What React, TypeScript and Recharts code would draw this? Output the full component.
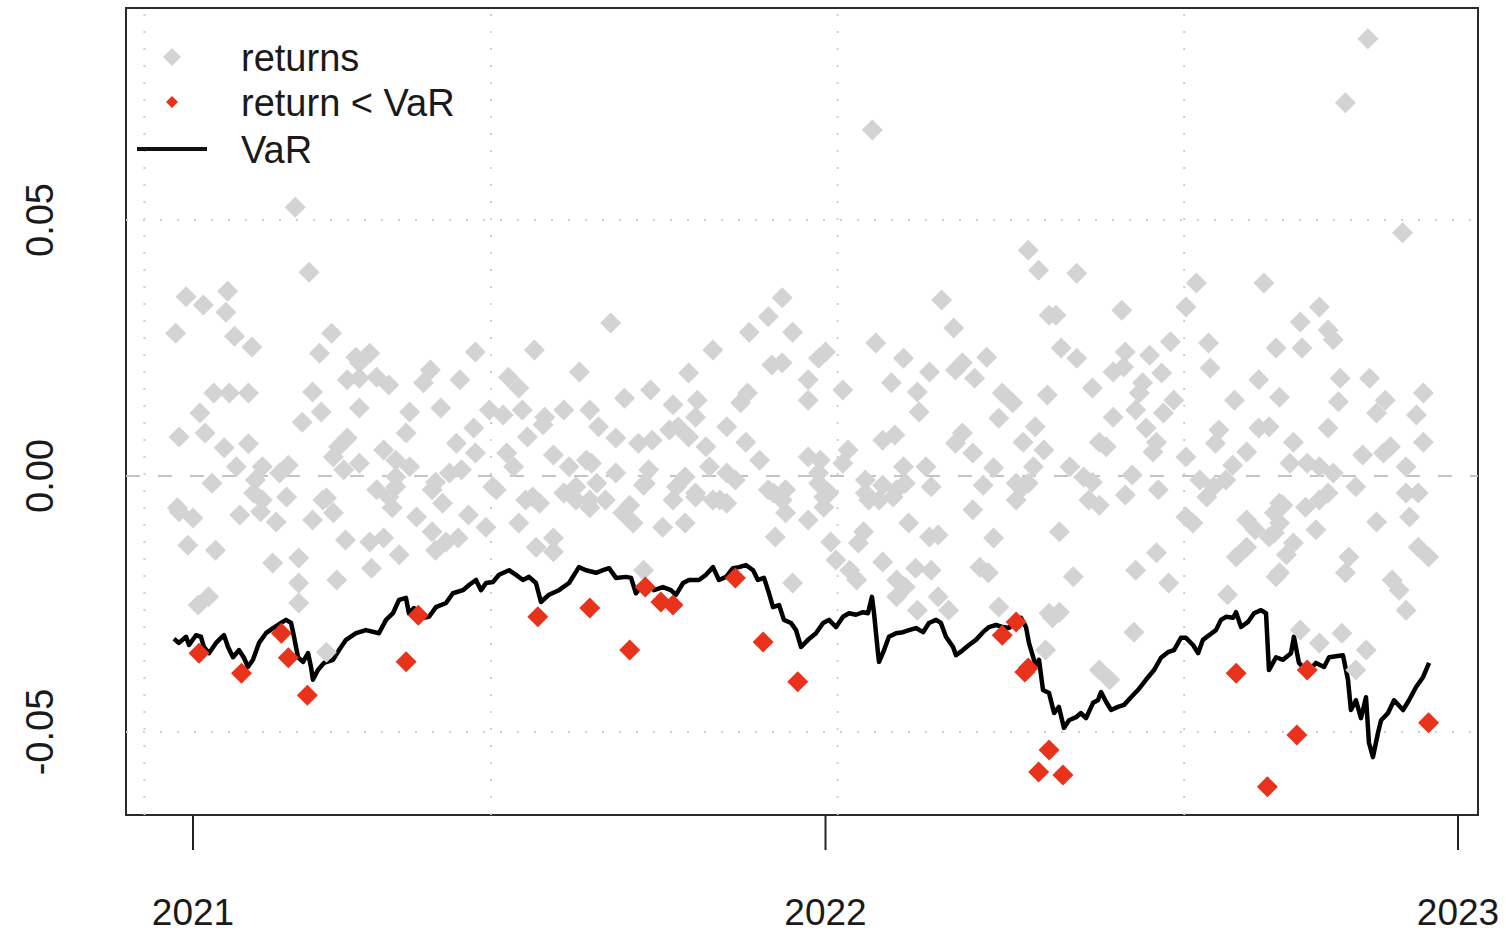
import React from 'react';
import { ComposedChart, Scatter, Line, XAxis, YAxis, ReferenceLine, ReferenceArea } from 'recharts';

// x = days since 2021-01-01, y = daily return
const yearTicks = [0, 365, 730];
const yearLabels = ['2021', '2022', '2023'];
const valueTicks = [-0.05, 0, 0.05];
const gridDays = [-28, 172, 372, 572];
const gridValues = [-0.05, 0.05];

const returnsEarly2021: [number, number][] = [
  [59, 0.0525], [67, 0.0398], [-4, 0.035], [6, 0.0334], [20, 0.0361], [19, 0.032], [-10, 0.0279], [24, 0.0273],
  [34, 0.0252], [80, 0.0279], [73, 0.024], [94, 0.0232], [89, 0.0188], [96, 0.0191], [12, 0.0162], [21, 0.0162],
  [32, 0.0162], [69, 0.0164], [4, 0.0123], [74, 0.0125], [96, 0.0133], [63, 0.0105], [-8, 0.0076], [7, 0.0084],
  [18, 0.0055], [32, 0.0063], [84, 0.0057], [89, 0.0074], [81, 0.0037], [96, 0.0025], [25, 0.0018], [40, 0.0018],
  [55, 0.0021], [50, 0.0006], [87, 0.0012], [11, -0.0014], [36, -0.0008], [35, -0.0033], [54, -0.0041], [77, -0.0043],
  [-9, -0.0062], [-8, -0.007], [0, -0.0082], [27, -0.0076], [40, -0.0047], [39, -0.007], [48, -0.009], [75, -0.0047],
  [69, -0.0086], [81, -0.0072], [88, -0.0125], [-3, -0.0135], [13, -0.0145], [46, -0.017], [61, -0.016], [83, -0.0203],
  [61, -0.0209], [9, -0.0236], [3, -0.0252], [61, -0.0248], [77, -0.0344],
];

const returnsMid2021: [number, number][] = [
  [102, 0.024], [96, 0.0221], [106, 0.0193], [113, 0.0178], [125, 0.0125], [137, 0.0207], [133, 0.0182], [143, 0.0133],
  [154, 0.0188], [163, 0.0242], [182, 0.0193], [188, 0.0172], [197, 0.0246], [223, 0.0203], [171, 0.0129], [179, 0.0119],
  [190, 0.0129], [203, 0.0115], [214, 0.0129], [229, 0.0129], [162, 0.0094], [123, 0.0084], [193, 0.0076], [202, 0.01],
  [152, 0.0064], [110, 0.0051], [117, 0.0031], [125, 0.0018], [163, 0.0045], [181, 0.0045], [185, 0.0018], [208, 0.0041],
  [217, 0.0018], [227, 0.0031], [140, -0.0012], [148, 0.0006], [155, 0.0012], [106, -0.0027], [173, -0.0021], [196, -0.0041],
  [221, -0.0021], [117, -0.0002], [113, -0.0041], [229, -0.0047], [117, -0.0021], [115, -0.0062], [102, -0.0129], [110, -0.0121],
  [119, -0.0154], [103, -0.018], [129, -0.008], [138, -0.0027], [144, -0.0053], [138, -0.0109], [146, -0.0129], [153, -0.0121],
  [140, -0.0145], [159, -0.0076], [169, -0.01], [175, -0.0027], [188, -0.0092], [192, -0.0047], [200, -0.0053], [198, -0.0139],
  [208, -0.0121], [208, -0.0148], [214, -0.0033], [221, -0.0047], [229, -0.0062],
];

const returnsLate2021: [number, number][] = [
  [241, 0.0299], [340, 0.0348], [332, 0.0311], [321, 0.0281], [346, 0.0281], [300, 0.0246], [334, 0.0217], [340, 0.0221],
  [361, 0.023], [286, 0.0201], [355, 0.0188], [249, 0.0152], [264, 0.0168], [277, 0.0139], [291, 0.0148], [290, 0.0115],
  [320, 0.0162], [316, 0.0143], [355, 0.0148], [234, 0.0096], [244, 0.0074], [257, 0.0064], [265, 0.007], [275, 0.009],
  [280, 0.0096], [286, 0.0076], [308, 0.0096], [319, 0.0066], [296, 0.0057], [327, 0.0031], [355, 0.0037], [230, 0.0025],
  [244, 0.0006], [263, 0.0012], [261, -0.0014], [284, -0.0002], [298, 0.0018], [308, 0.0006], [313, -0.0008], [332, -0.0027],
  [342, -0.0027], [361, 0.0006], [277, -0.0047], [290, -0.0041], [304, -0.0047], [238, -0.0047], [252, -0.0057], [233, -0.0014],
  [260, -0.0018], [248, -0.0072], [254, -0.0092], [271, -0.01], [284, -0.0092], [279, -0.0021], [290, -0.0033], [300, -0.0047],
  [308, -0.0053], [335, -0.0033], [340, -0.0047], [342, -0.0072], [355, -0.0086], [336, -0.0119], [346, -0.0209], [260, -0.0184],
  [361, -0.0014],
];

const returnsEarly2022: [number, number][] = [
  [392, 0.0676], [482, 0.0441], [488, 0.0402], [432, 0.0344], [439, 0.0289], [494, 0.0314], [394, 0.026], [365, 0.0242],
  [410, 0.023], [425, 0.0203], [444, 0.0221], [451, 0.0191], [458, 0.0232], [440, 0.0207], [375, 0.0168], [403, 0.0182],
  [418, 0.0164], [419, 0.0125], [467, 0.0162], [473, 0.0143], [465, 0.0113], [493, 0.0158], [398, 0.007], [405, 0.008],
  [444, 0.0084], [440, 0.0064], [450, 0.0045], [486, 0.0096], [479, 0.0066], [491, 0.0051], [378, 0.0051], [375, 0.0025],
  [362, 0.0031], [410, 0.0018], [423, 0.0018], [462, 0.0016], [485, 0.0018], [388, -0.0008], [398, -0.0018], [404, -0.0041],
  [411, -0.0014], [426, -0.0021], [456, -0.0018], [475, -0.0014], [482, -0.0014], [364, -0.0041], [390, -0.0047], [475, -0.0047],
  [367, -0.0033], [364, -0.0061], [388, -0.0033], [396, -0.0047], [406, -0.0027], [450, -0.0066], [479, -0.0021], [387, -0.0109],
  [384, -0.0131], [368, -0.0129], [413, -0.0092], [425, -0.0119], [430, -0.0115], [462, -0.0121], [371, -0.0164], [379, -0.0184],
  [383, -0.0203], [398, -0.0168], [406, -0.0203], [411, -0.0217], [417, -0.018], [426, -0.0184], [406, -0.0236], [430, -0.0236],
  [418, -0.0262], [436, -0.0262], [454, -0.0178], [459, -0.0189], [465, -0.0256], [494, -0.0268], [492, -0.034],
];

const returnsMid2022: [number, number][] = [
  [510, 0.0396], [498, 0.0314], [536, 0.0324], [579, 0.0377], [573, 0.033], [618, 0.0377], [501, 0.025], [510, 0.023],
  [538, 0.0242], [552, 0.0236], [564, 0.0262], [586, 0.026], [625, 0.025], [531, 0.0203], [537, 0.0213], [559, 0.0201],
  [587, 0.0211], [615, 0.0188], [519, 0.0172], [548, 0.0182], [546, 0.0162], [566, 0.0148], [560, 0.0123], [601, 0.0148],
  [627, 0.0154], [531, 0.0115], [544, 0.0129], [550, 0.0094], [592, 0.009], [590, 0.0064], [615, 0.0094], [621, 0.0096],
  [523, 0.0066], [527, 0.0057], [556, 0.0066], [554, 0.0047], [573, 0.0037], [608, 0.0047], [600, 0.0021], [506, 0.0018],
  [514, -0.0002], [519, -0.0012], [542, 0.0002], [557, -0.0027], [581, -0.0008], [589, -0.0021], [596, -0.0008], [585, -0.0041],
  [538, -0.0037], [517, -0.0047], [523, -0.0057], [627, -0.0053], [573, -0.008], [577, -0.0092], [500, -0.0109], [556, -0.015],
  [544, -0.0184], [563, -0.0209], [508, -0.0197], [500, -0.0266], [496, -0.0277], [543, -0.0305], [523, -0.0379], [529, -0.0398],
  [597, -0.0232], [608, -0.0139], [613, -0.0105], [608, -0.0086], [602, -0.0158], [621, -0.0119], [627, -0.0189], [624, -0.0072],
  [627, -0.0092],
];

const returnsLate2022: [number, number][] = [
  [678, 0.0854], [665, 0.0729], [698, 0.0475], [650, 0.033], [639, 0.0301], [655, 0.0285], [658, 0.0266], [640, 0.025],
  [662, 0.0191], [679, 0.0191], [661, 0.0145], [688, 0.0148], [683, 0.0123], [710, 0.0162], [706, 0.0119], [655, 0.0094],
  [635, 0.0066], [710, 0.0066], [675, 0.0041], [687, 0.0045], [691, 0.0057], [633, 0.0025], [643, 0.0025], [650, 0.0018],
  [658, 0.0006], [700, 0.0018], [671, -0.0021], [655, -0.0033], [650, -0.0047], [700, -0.0033], [707, -0.0033], [629, -0.0057],
  [642, -0.0061], [624, -0.0111], [648, -0.0105], [635, -0.0131], [631, -0.0154], [683, -0.009], [702, -0.008], [707, -0.0139],
  [713, -0.0158], [667, -0.0158], [665, -0.0189], [625, -0.0197], [692, -0.0203], [696, -0.0223], [700, -0.0262], [639, -0.0301],
  [650, -0.0326], [663, -0.0307], [677, -0.034], [671, -0.0379],
];

// returns that fell below the VaR estimate
const exceedances: [number, number][] = [
  [3.5, -0.0346], [28, -0.0385], [51, -0.0307], [55, -0.0355], [66, -0.0428], [123, -0.0363], [130, -0.0272], [199, -0.0275],
  [229, -0.0258], [252, -0.034], [261, -0.0217], [270, -0.0246], [277, -0.0252], [313, -0.0199], [329, -0.0324], [349, -0.0402],
  [467, -0.0311], [475, -0.0285], [480, -0.0383], [482, -0.0375], [488, -0.0578], [494, -0.0535], [502, -0.0584], [602, -0.0385],
  [620, -0.0607], [637, -0.0506], [643, -0.0379], [713, -0.0482],
];

const varSeries: [number, number][] = [
  [-11, -0.0318], [-8.1, -0.0326], [-4, -0.0314], [-2.3, -0.033], [1.7, -0.0311], [4.6, -0.0314], [6.3, -0.0334], [9.2, -0.0346],
  [13.3, -0.0326], [16.2, -0.0316], [17.9, -0.0311], [20.2, -0.0334], [23.1, -0.0354], [26.5, -0.034], [29.4, -0.0355], [31.7, -0.0373],
  [34.6, -0.0359], [38.1, -0.0326], [42.1, -0.0307], [46.2, -0.0297], [50.8, -0.0287], [53.7, -0.0281], [56.6, -0.0287], [58.3, -0.0314],
  [60.6, -0.0354], [63.5, -0.0363], [66.4, -0.0346], [68.1, -0.0373], [69.2, -0.0398], [72.1, -0.0379], [75.6, -0.0365], [80.8, -0.0359],
  [84.3, -0.034], [88.3, -0.032], [94.1, -0.0307], [99.8, -0.0301], [107.3, -0.0307], [111.4, -0.0281], [115.4, -0.0268], [118.9, -0.0242],
  [122.9, -0.0238], [124.6, -0.0268], [127.5, -0.0258], [132.7, -0.0277], [136.2, -0.0275], [140.2, -0.0256], [146, -0.0248], [150, -0.0229],
  [155.8, -0.0223], [159.3, -0.0213], [163.3, -0.0203], [166.2, -0.0223], [169.1, -0.0209], [173.1, -0.0207], [176.6, -0.0193], [182.4, -0.0184],
  [186.4, -0.0193], [190.4, -0.0203], [193.9, -0.0197], [197.9, -0.0209], [200.8, -0.0246], [205.4, -0.0232], [211.2, -0.0223], [217, -0.0209],
  [222.7, -0.0178], [226.8, -0.0184], [232.6, -0.0189], [236.6, -0.0184], [240.1, -0.018], [244.1, -0.0199], [249.9, -0.0197], [252.8, -0.0199],
  [255.6, -0.0229], [258.5, -0.0217], [262.6, -0.0209], [266, -0.0223], [271.2, -0.0217], [275.8, -0.0223], [278.7, -0.0232], [282.8, -0.0209],
  [286.2, -0.0203], [292, -0.0203], [296, -0.0193], [300.1, -0.0178], [303.5, -0.0203], [307.6, -0.0197], [311.6, -0.018], [315.1, -0.0178],
  [319.1, -0.0174], [323.2, -0.0184], [326, -0.0203], [329.5, -0.0199], [332.4, -0.0229], [334.7, -0.0256], [338.2, -0.0252], [341, -0.0281],
  [345.1, -0.0287], [348, -0.0301], [350.9, -0.0334], [354.9, -0.032], [359.5, -0.0307], [363.6, -0.0287], [367, -0.0281], [371.1, -0.0295],
  [375.1, -0.0275], [378.6, -0.0268], [382.6, -0.0271], [386.6, -0.0266], [389.5, -0.0268], [391.8, -0.0236], [393, -0.0268], [395.3, -0.0346],
  [395.9, -0.0363], [398.8, -0.034], [401.6, -0.0314], [405.7, -0.0307], [409.7, -0.0305], [413.2, -0.0301], [417.2, -0.0297], [421.3, -0.0305],
  [424.7, -0.0287], [428.8, -0.0281], [431.6, -0.0287], [434.5, -0.0314], [438.6, -0.0334], [440.3, -0.035], [444.3, -0.034], [447.8, -0.033],
  [451.8, -0.032], [455.9, -0.0305], [459.3, -0.0295], [463.4, -0.0291], [467.4, -0.0295], [470.9, -0.0297], [474.9, -0.0281], [477.8, -0.0277],
  [480.7, -0.0295], [482.4, -0.0326], [486.5, -0.0373], [488.2, -0.0359], [490.5, -0.0418], [494, -0.0424], [496.9, -0.0463], [499.7, -0.0451],
  [502.6, -0.0492], [505.5, -0.0477], [509.6, -0.0471], [512.4, -0.0463], [515.3, -0.0473], [519.4, -0.0443], [522.2, -0.0438], [524, -0.0422],
  [526.9, -0.0441], [529.8, -0.0457], [533.8, -0.0451], [537.3, -0.0447], [541.3, -0.0432], [545.3, -0.0418], [549.9, -0.0398], [554.6, -0.0379],
  [558.6, -0.0355], [562.6, -0.0344], [566.1, -0.034], [570.1, -0.0316], [573, -0.0316], [577.1, -0.033], [580, -0.0346], [582.8, -0.032],
  [586.3, -0.0311], [590.3, -0.0301], [593.2, -0.0281], [596.1, -0.0275], [600.2, -0.0277], [601.9, -0.0266], [604.8, -0.0295], [608.8, -0.0285],
  [612.3, -0.0268], [616.3, -0.0262], [619.2, -0.0268], [620.9, -0.0379], [625, -0.0354], [629, -0.0359], [633.6, -0.0346], [635.3, -0.0314],
  [638.2, -0.0365], [643.4, -0.0383], [648, -0.0365], [652.7, -0.0373], [655.6, -0.0354], [663.6, -0.035], [666.5, -0.0398], [668.2, -0.0457],
  [671.1, -0.0438], [674, -0.0473], [676.9, -0.0432], [678.6, -0.0521], [680.9, -0.0549], [683.8, -0.0502], [685.6, -0.0477], [689.6, -0.0463],
  [693.1, -0.0438], [698.3, -0.0457], [701.7, -0.0438], [705.8, -0.0412], [709.8, -0.0393], [713.3, -0.0365],
];

const toPoints = (rows: [number, number][]) => rows.map(([d, v]) => ({ d, v }));
const returnPoints = toPoints([
  ...returnsEarly2021, ...returnsMid2021, ...returnsLate2021,
  ...returnsEarly2022, ...returnsMid2022, ...returnsLate2022,
]);
const exceedPoints = toPoints(exceedances);
const varPoints = toPoints(varSeries);

const GREY = '#d3d3d3';
const RED = '#e8321c';
const FONT = '"Liberation Sans", Arial, Helvetica, sans-serif';

const W = 1509;
const H = 934;
const LEFT = 126;
const TOP = 8;
const RIGHT = 31;
const BOTTOM = 119;

const diamond = (r: number, fill: string) => (props: any) => {
  const { cx, cy } = props;
  if (cx == null || cy == null) return <g />;
  return <polygon points={`${cx},${cy - r} ${cx + r},${cy} ${cx},${cy + r} ${cx - r},${cy}`} fill={fill} />;
};

function YearTick({ x, payload }: any) {
  const i = yearTicks.indexOf(payload.value);
  return (
    <text x={x} y={H - 22} textAnchor="middle" dominantBaseline="central" fontSize={37} fontFamily={FONT} fill="#1a1a1a">
      {yearLabels[i]}
    </text>
  );
}

function ValueTick({ y, payload }: any) {
  return (
    <text
      x={40}
      y={y}
      transform={`rotate(-90, 40, ${y})`}
      textAnchor="middle"
      dominantBaseline="central"
      fontSize={38}
      fontFamily={FONT}
      fill="#1a1a1a"
    >
      {Number(payload.value).toFixed(2)}
    </text>
  );
}

function LegendBox() {
  const text = { fontSize: 38, fontFamily: FONT, fill: '#1a1a1a', dominantBaseline: 'central' as const };
  return (
    <svg width={W} height={H} style={{ position: 'absolute', left: 0, top: 0, pointerEvents: 'none' }}>
      <polygon points="172,48 181,57 172,66 163,57" fill={GREY} />
      <text x={241} y={58} {...text}>returns</text>
      <polygon points="172,96 178,102 172,108 166,102" fill={RED} />
      <text x={241} y={103} {...text}>{'return < VaR'}</text>
      <line x1={137} y1={149} x2={207} y2={149} stroke="#111" strokeWidth={4} />
      <text x={241} y={150} {...text}>VaR</text>
    </svg>
  );
}

export default function App() {
  return (
    <div style={{ position: 'absolute', left: 0, top: 0, width: W, height: H, background: '#fff' }}>
      <ComposedChart width={W} height={H} margin={{ top: TOP, right: RIGHT, bottom: 0, left: 0 }}>
        <XAxis
          type="number"
          dataKey="d"
          domain={[-38.66, 741.53]}
          ticks={yearTicks}
          tick={<YearTick />}
          tickSize={35}
          tickLine={{ stroke: '#222', strokeWidth: 2 }}
          axisLine={false}
          height={BOTTOM}
          allowDataOverflow
        />
        <YAxis
          type="number"
          dataKey="v"
          domain={[-0.06621, 0.09141]}
          ticks={valueTicks}
          tick={<ValueTick />}
          tickLine={false}
          axisLine={false}
          width={LEFT}
          allowDataOverflow
        />
        {gridDays.map((d) => (
          <ReferenceLine key={`gx-${d}`} x={d} stroke="#cfcfcf" strokeWidth={2} strokeDasharray="2 15" />
        ))}
        {gridValues.map((v) => (
          <ReferenceLine key={`gy-${v}`} y={v} stroke="#cfcfcf" strokeWidth={2} strokeDasharray="2 15" />
        ))}
        <ReferenceLine y={0} stroke="#c4c4c4" strokeWidth={2} strokeDasharray="14 18" />
        <Scatter name="returns" data={returnPoints} dataKey="v" shape={diamond(10.5, GREY)} isAnimationActive={false} />
        <Scatter name="return < VaR" data={exceedPoints} dataKey="v" shape={diamond(10.5, RED)} isAnimationActive={false} />
        <Line
          name="VaR"
          data={varPoints}
          dataKey="v"
          type="linear"
          stroke="#000"
          strokeWidth={4.5}
          strokeLinejoin="round"
          dot={false}
          activeDot={false}
          isAnimationActive={false}
        />
        <ReferenceArea
          x1={-38.66}
          x2={741.53}
          y1={-0.06621}
          y2={0.09141}
          fill="none"
          stroke="#2a2a2a"
          strokeWidth={2}
          ifOverflow="visible"
        />
      </ComposedChart>
      <LegendBox />
    </div>
  );
}
